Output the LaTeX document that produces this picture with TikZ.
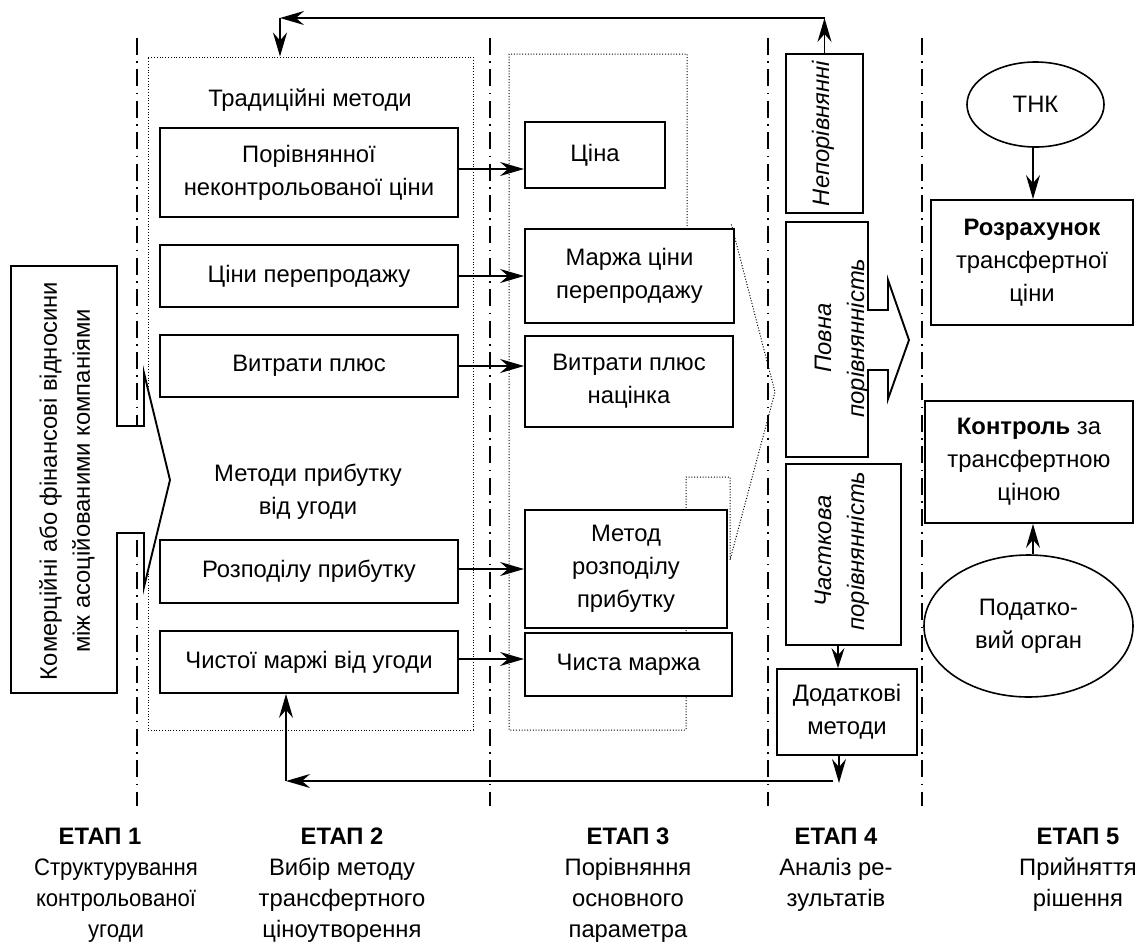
\documentclass[tikz,border=0pt]{standalone}
\usepackage{fontspec}
\setmainfont{Liberation Sans}
\newfontfamily\narrowsans[FakeStretch=0.93]{Liberation Sans}
\usetikzlibrary{arrows.meta,shapes.geometric,calc}

\begin{document}
\begin{tikzpicture}[x=0.5pt,y=-0.5pt,
  every node/.style={font=\fontsize{11.9pt}{16.5pt}\selectfont, inner sep=0pt, align=center},
  box/.style={draw, line width=0.95pt, fill=white},
  oval/.style={draw, ellipse, line width=0.8pt, fill=white},
  arr/.style={line width=0.7pt, -{Stealth[length=12pt,width=7pt,inset=4pt]}},
  sarr/.style={line width=0.7pt, -{Stealth[length=10pt,width=6.5pt,inset=3.5pt]}},
  stageline/.style={line width=0.85pt, dash pattern=on 8.5pt off 3.2pt on 0.8pt off 3.2pt},
  dotline/.style={line width=0.5pt, dash pattern=on 0.5pt off 0.9pt},
  rot/.style={rotate=90, font=\fontsize{11.9pt}{16.5pt}\selectfont\itshape},
  stage/.style={anchor=base, font=\fontsize{11.9pt}{15.5pt}\selectfont}
]
\useasboundingbox (0,0) rectangle (1136,949);

% stage separators
\foreach \xx in {137,490,768,922}
  \draw[stageline] (\xx,38) -- (\xx,806);

% stage 2 container
\node[dotline, draw, minimum width=162.5pt, minimum height=336.5pt] (c2) at (310.5,393.5) {};
% stage 3 container with the dotted arrow outline
\draw[dotline] (687,229) -- (687,54) -- (509,54) -- (509,730) -- (686,730) -- (686,477)
  -- (730,477) -- (730,560) -- (775,392) -- (731,223);

% stage 1: relations box with arrow
\draw[box] (11,266) -- (117,266) -- (117,426) -- (144,426) -- (144,373) -- (170,480)
  -- (144,587) -- (144,533) -- (117,533) -- (117,693) -- (11,693) -- cycle;
\node[rotate=90] (rel) at (67,481) {Комерційні або фінансові відносини\\між асоційованими компаніями};

% stage 2: methods
\node (trad) at (310,100) {Традиційні методи};
\node[box, minimum width=149pt, minimum height=44.5pt] (p1) at (309,172.5) {Порівнянної\\неконтрольованої ціни};
\node[box, minimum width=149pt, minimum height=31pt] (p2) at (309,276) {Ціни перепродажу};
\node[box, minimum width=149pt, minimum height=31pt] (p3) at (309,366) {Витрати плюс};
\node (prof) at (308,492) {Методи прибутку\\від угоди};
\node[box, minimum width=149pt, minimum height=31.5pt] (p4) at (309,571.5) {Розподілу прибутку};
\node[box, minimum width=149pt, minimum height=31pt] (p5) at (309,662) {Чистої маржі від угоди};

% stage 3: parameters
\node[box, minimum width=70pt, minimum height=33pt] (q1) at (595,155) {Ціна};
\node[box, minimum width=104.5pt, minimum height=47pt] (q2) at (629.5,276) {Маржа ціни\\перепродажу};
\node[box, minimum width=104pt, minimum height=45.5pt] (q3) at (629,381.5) {Витрати плюс\\націнка};
\node[box, minimum width=101pt, minimum height=59pt] (q4) at (626,569) {Метод\\розподілу\\прибутку};
\node[box, minimum width=103.5pt, minimum height=31.5pt] (q5) at (628.5,664.5) {Чиста маржа};

\draw[arr] (p1.east |- 0,169) -- (q1.west |- 0,169);
\draw[arr] (p2.east) -- (q2.west);
\draw[arr] (p3.east) -- (q3.west |- p3.east);
\draw[arr] (p4.east |- 0,569) -- (q4.west |- 0,569);
\draw[arr] (p5.east |- 0,659) -- (q5.west |- 0,659);

% stage 4: comparability
\node[box, minimum width=38.5pt, minimum height=79.5pt] (r1) at (824.5,133.5) {};
\node[rot] (r1t) at (823,133.5) {Непорівнянні};
\draw[box] (786,222) -- (868,222) -- (868,310) -- (888,310) -- (888,280) -- (909,340)
  -- (888,399) -- (888,370) -- (868,370) -- (868,457) -- (786,457) -- cycle;
\node[rot] (r2t) at (842,338) {Повна\\порівнянність};
\node[box, minimum width=57.5pt, minimum height=90.5pt] (r3) at (843.5,554.5) {};
\node[rot] (r3t) at (842,551) {Часткова\\порівнянність};
\node[box, minimum width=70pt, minimum height=43pt] (r4) at (847,712) {Додаткові\\методи};
\draw[sarr] (r3.south -| 838,0) -- (r4.north -| 838,0);

% feedback loops
\draw[arr] (r1.north) -- (r1.north |- 0,18) coordinate (tr);
\draw[arr] (tr) -- (280,18) coordinate (tl);
\draw[arr] (tl) -- (tl |- c2.north);
\draw[arr] (r4.south -| 839,0) -- (839,783);
\coordinate (br) at (833,781);
\coordinate (bl) at (286,781);
\draw[arr] (br) -- (bl);
\draw[arr] (bl) -- (bl |- p5.south);

% stage 5: decision
\node[oval, minimum width=68.5pt, minimum height=42.5pt] (tnk) at (1035.5,104.5) {ТНК};
\node[box, minimum width=101pt, minimum height=62.5pt] (calc) at (1032,262.5) {\textbf{Розрахунок}\\трансфертної\\ціни};
\node[box, minimum width=104pt, minimum height=61pt] (ctrl) at (1029,462) {\textbf{Контроль} за\\трансфертною\\ціною};
\node[oval, minimum width=104.5pt, minimum height=71pt] (tax) at (1028.5,626) {Податко-\\вий орган};
\draw[arr] (tnk.south -| 1033,0) -- (calc.north -| 1033,0);
\draw[arr] (tax.north -| 1033,0) -- (ctrl.south -| 1033,0);

% stage captions (anchor base = baseline of the last line)
\node[stage] (e1) at (100,844) {\textbf{ЕТАП 1}};
\node[stage, font=\narrowsans\fontsize{11.9pt}{15.5pt}\selectfont] (d1) at (116,937) {Структурування\\контрольованої\\угоди};
\node[stage] (e2) at (342,937) {\textbf{ЕТАП 2}\\Вибір методу\\трансфертного\\ціноутворення};
\node[stage] (e3) at (628,937) {\textbf{ЕТАП 3}\\Порівняння\\основного\\параметра};
\node[stage] (e4) at (836,906) {\textbf{ЕТАП 4}\\Аналіз ре-\\зультатів};
\node[stage] (e5) at (1078,906) {\textbf{ЕТАП 5}\\Прийняття\\рішення};
\end{tikzpicture}
\end{document}
